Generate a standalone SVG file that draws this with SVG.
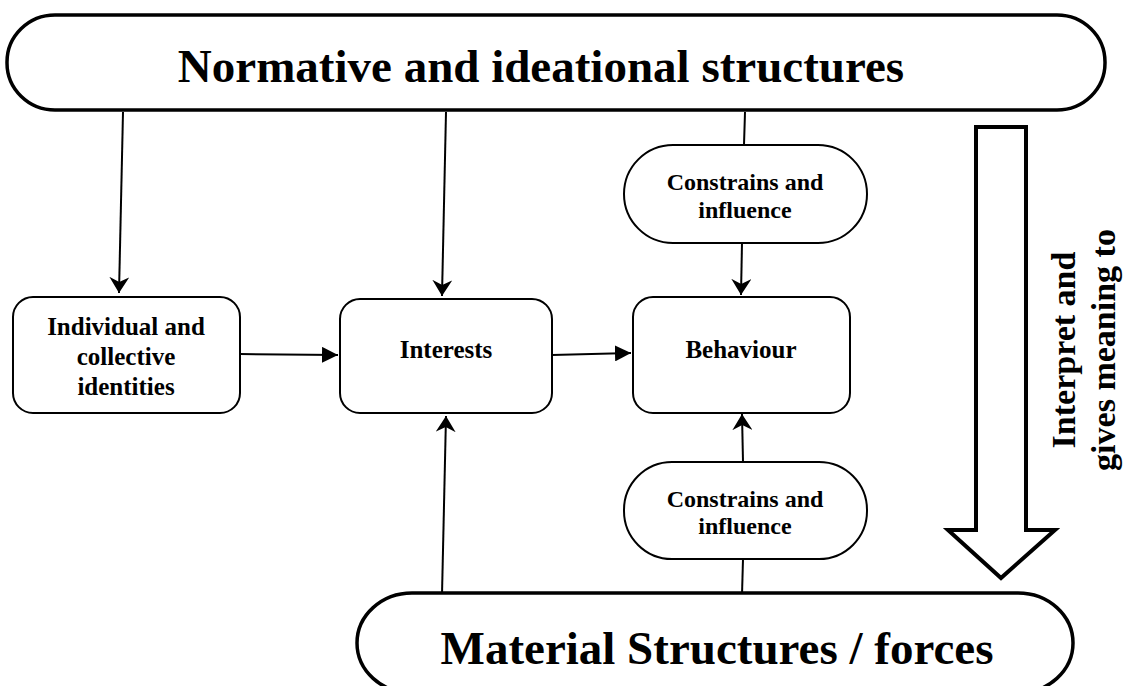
<svg xmlns="http://www.w3.org/2000/svg" width="1124" height="686" viewBox="0 0 1124 686">
<defs>
<style>
.big{fill:#fff;stroke:#000;stroke-width:3.5}
.box{fill:#fff;stroke:#000;stroke-width:2}
.ln{stroke:#000;stroke-width:2;fill:none}
text{font-family:'Liberation Serif','Times New Roman',Times,serif;font-weight:bold;fill:#000;text-anchor:middle}
.tb{font-size:47px}
.tm{font-size:47px}
.ts{font-size:25px}
.tc{font-size:24px}
.tv{font-size:34px}
</style>
<marker id="ahv" markerWidth="16" markerHeight="20" refX="16" refY="10" orient="auto" markerUnits="userSpaceOnUse" viewBox="0 0 16 20">
<path d="M0,0 L16,10 L0,20 L5,10 z" fill="#000"/>
</marker>
<marker id="ah" markerWidth="16" markerHeight="16" refX="16" refY="8" orient="auto" markerUnits="userSpaceOnUse" viewBox="0 0 16 16">
<path d="M0,0 L16,8 L0,16 z" fill="#000"/>
</marker>
</defs>
<rect width="1124" height="686" fill="#fff"/>

<g id="connectors">
<line class="ln" x1="123" y1="112" x2="119" y2="293" marker-end="url(#ahv)"/>
<line class="ln" x1="446" y1="112" x2="442" y2="296" marker-end="url(#ahv)"/>
<line class="ln" x1="745" y1="112" x2="744" y2="145"/>
<line class="ln" x1="742" y1="243" x2="741" y2="295" marker-end="url(#ahv)"/>
<line class="ln" x1="240" y1="354" x2="338" y2="355" marker-end="url(#ah)"/>
<line class="ln" x1="552" y1="355" x2="631" y2="353" marker-end="url(#ah)"/>
<line class="ln" x1="442" y1="595" x2="446" y2="416" marker-end="url(#ahv)"/>
<line class="ln" x1="742" y1="595" x2="743" y2="559"/>
<line class="ln" x1="743" y1="462" x2="742" y2="414" marker-end="url(#ahv)"/>
</g>

<g id="normative">
<rect class="big" x="7" y="15" width="1098" height="95" rx="48" ry="47"/>
<text class="tb" x="541" y="82">Normative and ideational structures</text>
</g>

<g id="material">
<rect class="big" x="357" y="593" width="716" height="100" rx="55" ry="50"/>
<text class="tm" x="717" y="664">Material Structures / forces</text>
</g>

<g id="identities">
<rect class="box" x="13" y="297" width="227" height="116" rx="20"/>
<text class="ts" x="126" y="335">Individual and</text>
<text class="ts" x="126" y="365">collective</text>
<text class="ts" x="126" y="395">identities</text>
</g>

<g id="interests">
<rect class="box" x="340" y="299" width="212" height="114" rx="20"/>
<text class="ts" x="446" y="358">Interests</text>
</g>

<g id="behaviour">
<rect class="box" x="633" y="297" width="217" height="116" rx="20"/>
<text class="ts" x="741" y="358">Behaviour</text>
</g>

<g id="constrains-top">
<rect class="box" x="624" y="145" width="243" height="98" rx="49"/>
<text class="tc" x="745" y="190">Constrains and</text>
<text class="tc" x="745" y="218">influence</text>
</g>

<g id="constrains-bottom">
<rect class="box" x="624" y="462" width="243" height="97" rx="48"/>
<text class="tc" x="745" y="507">Constrains and</text>
<text class="tc" x="745" y="534">influence</text>
</g>

<g id="interpret">
<path d="M976,127 L1026,127 L1026,530 L1055,530 L1001,578 L948,530 L976,530 Z" fill="#fff" stroke="#000" stroke-width="4" stroke-linejoin="miter"/>
<text class="tv" transform="translate(1075,350) rotate(-90)">Interpret and</text>
<text class="tv" transform="translate(1115,350) rotate(-90)">gives meaning to</text>
</g>
</svg>
